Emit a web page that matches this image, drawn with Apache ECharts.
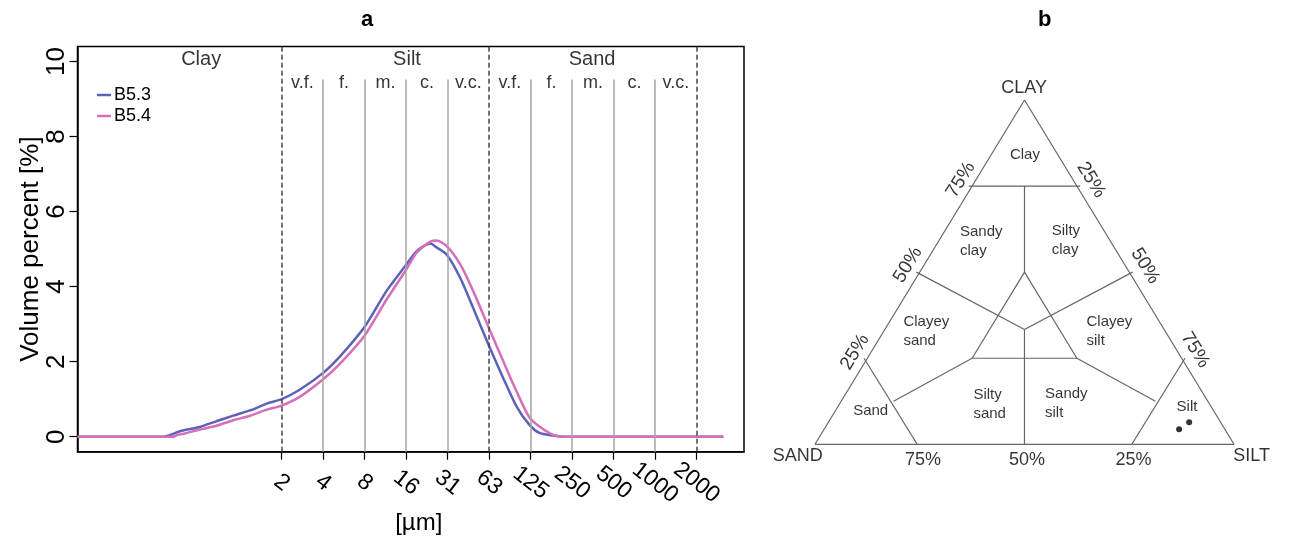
<!DOCTYPE html>
<html>
<head>
<meta charset="utf-8">
<script src="https://cdn.jsdelivr.net/npm/echarts@6.0.0/dist/echarts.min.js"></script>
<style>
html, body { margin: 0; padding: 0; background: #fff; }
#chart { width: 1304px; height: 547px; }
</style>
</head>
<body>
<div id="chart"></div>
<script>
// panel a: grain size distribution (volume %)
const sizeUm = [0.066, 0.28, 0.33, 0.35, 0.39, 0.51, 0.67, 0.89, 1.18, 1.56, 2, 2.7, 4, 5.3, 8, 11.5, 16, 19, 24, 26.5, 31.5, 39.5, 49, 64, 81, 101, 125, 148, 186, 221, 3200];
const volB53 = [0, 0, 0.08, 0.12, 0.17, 0.26, 0.41, 0.56, 0.70, 0.88, 1.00, 1.25, 1.70, 2.14, 2.93, 3.88, 4.58, 4.94, 5.15, 5.05, 4.85, 4.23, 3.43, 2.41, 1.56, 0.81, 0.32, 0.10, 0.03, 0, 0];
const volB54 = [0, 0, 0, 0.05, 0.08, 0.19, 0.29, 0.44, 0.56, 0.72, 0.83, 1.06, 1.53, 1.95, 2.70, 3.65, 4.45, 4.90, 5.20, 5.23, 5.08, 4.59, 3.88, 2.88, 2.01, 1.21, 0.52, 0.27, 0.05, 0, 0];
const sizeTickLabels = ['2', '4', '8', '16', '31', '63', '125', '250', '500', '1000', '2000'];
const classLimits = ['2', '63', '2000'];
const subClasses = ['v.f.', 'f.', 'm.', 'c.', 'v.c.'];
const yTicks = [0, 2, 4, 6, 8, 10];

// panel b: ternary diagram, compositions as [clay, sand, silt] %
const ternSegments = [
    [[0, 100, 0], [0, 0, 100], [100, 0, 0], [0, 100, 0]],
    [[75, 25.8, -0.8], [75, -0.8, 25.8]],
    [[75, 12.5, 12.5], [50, 25, 25]],
    [[50, 25, 25], [25, 50, 25], [25, 25, 50], [50, 25, 25]],
    [[50, 50.8, -0.8], [33.33, 33.33, 33.33]],
    [[50, -0.8, 50.8], [33.33, 33.33, 33.33]],
    [[33.33, 33.33, 33.33], [-1.2, 50.6, 50.6]],
    [[25, 75.8, -0.8], [-1.2, 75.6, 25.6]],
    [[25, -0.8, 75.8], [-1.2, 25.6, 75.6]],
    [[12.5, 75, 12.5], [25, 50, 25]],
    [[12.5, 12.5, 75], [25, 25, 50]]
];
const sampleClay = [4.4, 6.4];
const sampleSand = [10.9, 7.5];
const sampleSilt = [84.7, 86.1];

const FONT = '"Liberation Sans", Arial, sans-serif';
const log2 = (v) => Math.log(v) / Math.LN2;
const tern = (c, sa, si) => [si + c / 2, c];
const tickPos = (lab) => sizeTickLabels.indexOf(lab) + 1;

let chart = echarts.init(document.getElementById('chart'));

const classLines = [];
sizeTickLabels.forEach((lab, i) => {
    if (classLimits.indexOf(lab) >= 0) {
        classLines.push({ xAxis: i + 1, lineStyle: { type: [5, 3], color: '#444', width: 1.5 } });
    } else {
        classLines.push([{ coord: [i + 1, -0.4] }, { coord: [i + 1, 9.52] }]);
    }
});

const textItem = (text, pos, opts) => ({
    value: pos,
    label: Object.assign({ show: true, formatter: text, position: 'inside', color: '#000', fontFamily: FONT }, opts)
});

const panelATexts = [
    textItem('Clay', [-0.94, 10.05], { fontSize: 20 }),
    textItem('Silt', [4.02, 10.05], { fontSize: 20 }),
    textItem('Sand', [8.48, 10.05], { fontSize: 20 })
];
subClasses.forEach((s, i) => {
    panelATexts.push(textItem(s, [tickPos('2') + i + 0.5, 9.43], { fontSize: 18 }));
    panelATexts.push(textItem(s, [tickPos('63') + i + 0.5, 9.43], { fontSize: 18 }));
});

const ternTexts = [
    textItem('CLAY', [49.9, 103.6], { fontSize: 18 }),
    textItem('SAND', [-4.1, -3.5], { fontSize: 18 }),
    textItem('SILT', [104.2, -3.5], { fontSize: 18 }),
    textItem('75%', [25.8, -4.7], { fontSize: 18 }),
    textItem('50%', [50.6, -4.7], { fontSize: 18 }),
    textItem('25%', [76.0, -4.7], { fontSize: 18 }),
    textItem('75%', [34.8, 76.8], { fontSize: 19, rotate: 58.6 }),
    textItem('50%', [22.2, 52.1], { fontSize: 19, rotate: 58.6 }),
    textItem('25%', [9.55, 26.8], { fontSize: 19, rotate: 58.6 }),
    textItem('25%', [65.9, 76.8], { fontSize: 19, rotate: -58.6 }),
    textItem('50%', [78.8, 51.8], { fontSize: 19, rotate: -58.6 }),
    textItem('75%', [90.7, 27.4], { fontSize: 19, rotate: -58.6 }),
    textItem('Clay', [50.1, 84.0], { fontSize: 15 }),
    textItem('Sandy\nclay', [34.6, 59.0], { fontSize: 15, lineHeight: 19, align: 'left' }),
    textItem('Silty\nclay', [56.5, 59.3], { fontSize: 15, lineHeight: 19, align: 'left' }),
    textItem('Clayey\nsand', [21.1, 32.8], { fontSize: 15, lineHeight: 19, align: 'left' }),
    textItem('Clayey\nsilt', [64.8, 32.9], { fontSize: 15, lineHeight: 19, align: 'left' }),
    textItem('Silty\nsand', [37.8, 11.7], { fontSize: 15, lineHeight: 19, align: 'left' }),
    textItem('Sandy\nsilt', [54.9, 12.0], { fontSize: 15, lineHeight: 19, align: 'left' }),
    textItem('Sand', [9.1, 9.8], { fontSize: 15, align: 'left' }),
    textItem('Silt', [86.3, 10.9], { fontSize: 15, align: 'left' })
];

const ternSeries = ternSegments.map((seg) => ({
    type: 'line',
    xAxisIndex: 1,
    yAxisIndex: 1,
    silent: true,
    symbol: 'none',
    animation: false,
    lineStyle: { color: '#666', width: 1.2 },
    data: seg.map((p) => tern(p[0], p[1], p[2]))
}));

let option = {
    animation: false,
    textStyle: { fontFamily: FONT, color: '#000' },
    title: [
        { text: 'a', left: 356, top: 4, textStyle: { fontSize: 22, fontWeight: 'bold', fontFamily: FONT, color: '#000' } },
        { text: 'b', left: 1033, top: 4, textStyle: { fontSize: 22, fontWeight: 'bold', fontFamily: FONT, color: '#000' } }
    ],
    legend: {
        data: ['B5.3', 'B5.4'],
        orient: 'vertical',
        left: 92,
        top: 81,
        icon: 'rect',
        itemWidth: 14,
        itemHeight: 2.5,
        itemGap: 3,
        selectedMode: false,
        textStyle: { fontSize: 18, lineHeight: 18, color: '#000', fontFamily: FONT, padding: [0, 0, 0, -2] }
    },
    grid: [
        { left: 77.5, top: 46.5, width: 666.5, height: 405.2, show: true, borderColor: '#000', borderWidth: 1.5 },
        { left: 815, top: 100, width: 419, height: 344.3 }
    ],
    xAxis: [
        {
            gridIndex: 0,
            type: 'value',
            min: -3.92,
            max: 12.14,
            splitLine: { show: false },
            axisLine: { show: true, onZero: false, lineStyle: { color: '#000', width: 1.5 } },
            axisTick: { show: true, customValues: sizeTickLabels.map((l, i) => i + 1), length: 8, lineStyle: { color: '#000', width: 1.2 } },
            axisLabel: {
                customValues: sizeTickLabels.map((l, i) => i + 1),
                formatter: (v) => sizeTickLabels[Math.round(v) - 1],
                rotate: -38,
                align: 'center',
                verticalAlign: 'middle',
                margin: 31,
                fontSize: 23,
                color: '#000',
                fontFamily: FONT
            },
            name: '[µm]',
            nameLocation: 'middle',
            nameGap: 60,
            nameMoveOverlap: false,
            nameTextStyle: { fontSize: 24, color: '#000', fontFamily: FONT, padding: [0, 0, 0, 16] }
        },
        { gridIndex: 1, type: 'value', min: 0, max: 100, show: false }
    ],
    yAxis: [
        {
            gridIndex: 0,
            type: 'value',
            min: -0.4,
            max: 10.4,
            splitLine: { show: false },
            axisLine: { show: true, onZero: false, lineStyle: { color: '#000', width: 1.5 } },
            axisTick: { show: true, customValues: yTicks, length: 8, lineStyle: { color: '#000', width: 1.2 } },
            axisLabel: { customValues: yTicks, rotate: 90, margin: 8, fontSize: 26, color: '#000', fontFamily: FONT },
            name: 'Volume percent [%]',
            nameLocation: 'middle',
            nameGap: 34,
            nameMoveOverlap: false,
            nameTextStyle: { fontSize: 26, color: '#000', fontFamily: FONT }
        },
        { gridIndex: 1, type: 'value', min: 0, max: 100, show: false }
    ],
    series: [
        {
            type: 'line',
            name: 'classes',
            silent: true,
            data: [],
            z: 1,
            markLine: {
                silent: true,
                symbol: 'none',
                label: { show: false },
                lineStyle: { type: 'solid', color: '#a6a6a6', width: 1.5 },
                data: classLines
            }
        },
        {
            type: 'line',
            name: 'B5.3',
            z: 3,
            smooth: 0.25,
            showSymbol: false,
            itemStyle: { color: '#5b63b8' },
            lineStyle: { color: '#5b63b8', width: 2.5 },
            data: sizeUm.map((s, i) => [log2(s), volB53[i]])
        },
        {
            type: 'line',
            name: 'B5.4',
            z: 4,
            smooth: 0.25,
            showSymbol: false,
            itemStyle: { color: '#d56fba' },
            lineStyle: { color: '#d56fba', width: 2.5 },
            data: sizeUm.map((s, i) => [log2(s), volB54[i]])
        },
        {
            type: 'scatter',
            silent: true,
            clip: false,
            symbolSize: 1,
            itemStyle: { color: 'transparent' },
            z: 5,
            data: panelATexts
        },
        ...ternSeries,
        {
            type: 'scatter',
            xAxisIndex: 1,
            yAxisIndex: 1,
            silent: true,
            clip: false,
            symbolSize: 6,
            itemStyle: { color: '#000' },
            data: sampleClay.map((c, i) => tern(c, sampleSand[i], sampleSilt[i]))
        },
        {
            type: 'scatter',
            xAxisIndex: 1,
            yAxisIndex: 1,
            silent: true,
            clip: false,
            symbolSize: 1,
            itemStyle: { color: 'transparent' },
            data: ternTexts
        }
    ]
};

chart.setOption(option);
</script>
</body>
</html>
